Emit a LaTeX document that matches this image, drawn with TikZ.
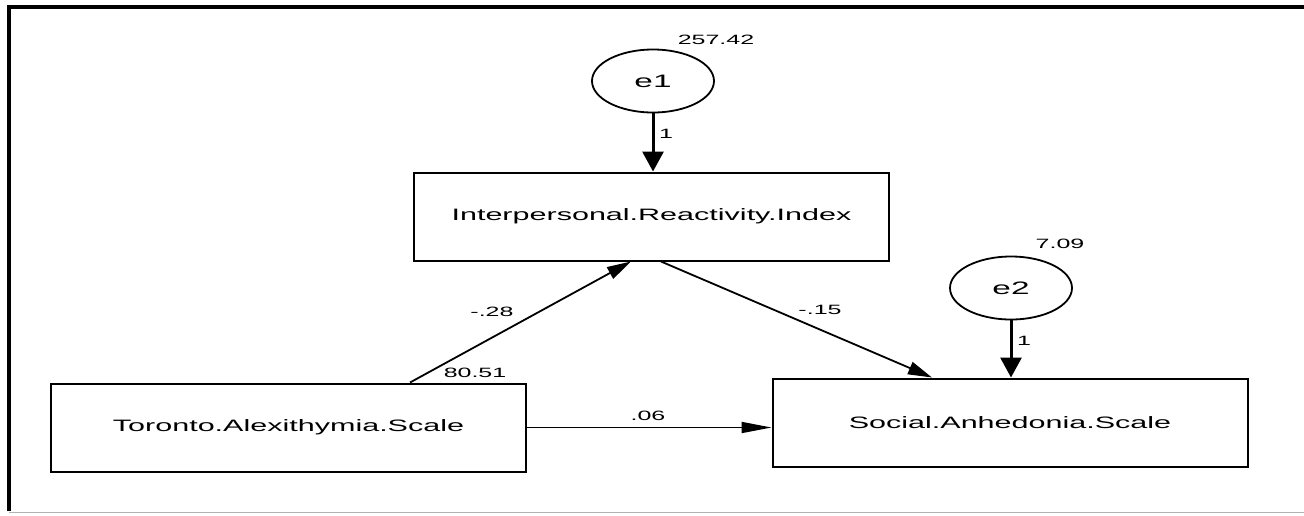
\documentclass[tikz,border=0pt]{standalone}
\usepackage{fontspec}
\newfontfamily\pathfont[FakeStretch=1.85]{Liberation Sans}
\usetikzlibrary{shapes.geometric}
\usetikzlibrary{arrows.meta}

\tikzset{
  var/.style={draw, line width=2pt, rectangle, inner sep=0pt,
    minimum width=475pt, minimum height=88pt,
    font=\fontsize{16.5}{18}\pathfont},
  err/.style={draw, line width=1.8pt, ellipse, inner sep=0pt,
    minimum width=122pt, minimum height=63pt,
    font=\fontsize{18}{20}\pathfont},
  est/.style={inner sep=0pt, font=\fontsize{13.5}{15}\pathfont},
  path/.style={line width=1.8pt, -{Triangle[length=24pt,width=13pt]}},
  flat/.style={line width=1.8pt, -{Triangle[length=30pt,width=11pt]}},
  fix/.style={line width=3pt, -{Triangle[length=20pt,width=21pt]}}
}

\begin{document}
\begin{tikzpicture}[x=1pt,y=-1pt]
\useasboundingbox (0,0) rectangle (1304,515);
% frame
\fill[white] (0,0) rectangle (1304,515);
\draw[line width=4pt] (9,511) -- (9,7) -- (1304,7);
\draw[gray!60, line width=1pt] (9,512) -- (1304,512);

% observed variables
\node[var] (iri) at (651.5,216.5) {Interpersonal.Reactivity.Index};
\node[var] (tas) at (288.5,427.5) {Toronto.Alexithymia.Scale};
\node[var] (sas) at (1010,422.5) {Social.Anhedonia.Scale};

% error terms
\node[err] (e1) at (653,81) {e1};
\node[err] (e2) at (1011,288) {e2};

% variances
\node[est] (ve1) at (716,40) {257.42};
\node[est] (ve2) at (1060,244) {7.09};
\node[est] (vtas) at (475,373) {80.51};

% paths
\draw[fix] (e1) -- (e1 |- iri.north);
\draw[fix] (e2) -- (e2 |- sas.north);
\draw[path] ([xshift=-117pt]tas.north east) -- ([xshift=-20.5pt]iri.south);
\draw[path] ([xshift=9.5pt]iri.south) -- ([xshift=-78pt]sas.north);
\draw[flat] (tas.east) -- (tas.east -| sas.west);

% weights
\node[est] (w1) at (666,134) {1};
\node[est] (w2) at (1024,341) {1};
\node[est] (wa) at (492,312) {-.28};
\node[est] (wb) at (820,310) {-.15};
\node[est] (wc) at (648,416) {.06};
\end{tikzpicture}
\end{document}
